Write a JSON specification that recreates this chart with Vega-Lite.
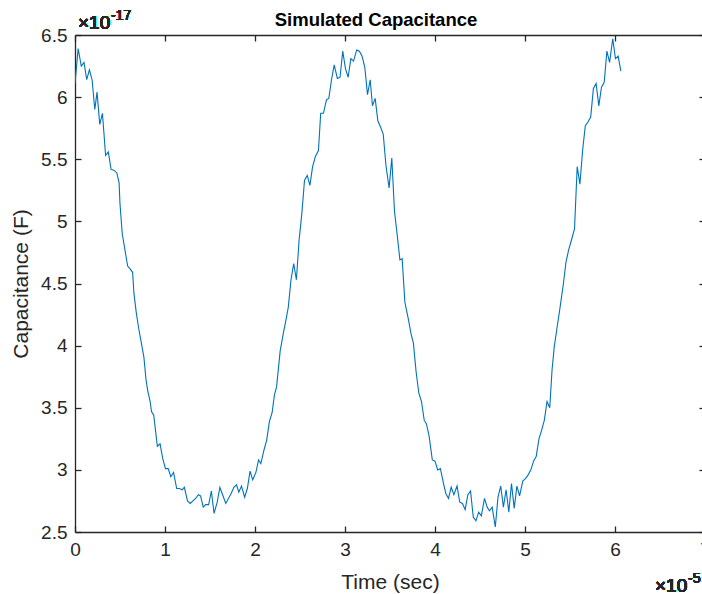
{
  "$schema": "https://vega.github.io/schema/vega-lite/v6.json",
  "autosize": "none",
  "padding": {"left": 75, "top": 35, "right": 0, "bottom": 62},
  "width": 630,
  "height": 497,
  "background": "white",
  "title": {"text": "Simulated Capacitance", "fontSize": 18.5, "fontWeight": "bold", "font": "Liberation Sans", "color": "black", "anchor": "middle", "baseline": "alphabetic", "offset": -35, "dx": -14},
  "config": {
    "view": {"stroke": null},
    "axis": {"domainColor": "#262626", "domainWidth": 1.3, "tickColor": "#262626", "tickWidth": 1.3, "tickSize": -6, "labelColor": "#262626", "labelFont": "Liberation Sans", "labelFontSize": 19, "labelFlush": false, "labelOverlap": false, "format": "~g", "titleFont": "Liberation Sans", "titleFontSize": 21, "titleFontWeight": "normal", "titleColor": "#262626", "grid": false}
  },
  "data": {"values": [
    {"t": 0.0, "c": 6.11}, {"t": 0.035, "c": 6.39}, {"t": 0.07, "c": 6.25}, {"t": 0.1, "c": 6.28}, {"t": 0.13, "c": 6.14}, {"t": 0.16, "c": 6.22}, {"t": 0.19, "c": 6.14}, {"t": 0.22, "c": 5.9}, {"t": 0.245, "c": 6.04}, {"t": 0.275, "c": 5.78}, {"t": 0.305, "c": 5.87}, {"t": 0.34, "c": 5.53}, {"t": 0.37, "c": 5.56}, {"t": 0.4, "c": 5.42}, {"t": 0.435, "c": 5.41}, {"t": 0.465, "c": 5.39}, {"t": 0.49, "c": 5.31}, {"t": 0.5, "c": 5.14}, {"t": 0.525, "c": 4.9}, {"t": 0.555, "c": 4.77}, {"t": 0.585, "c": 4.64}, {"t": 0.61, "c": 4.62}, {"t": 0.64, "c": 4.59}, {"t": 0.655, "c": 4.42}, {"t": 0.68, "c": 4.27}, {"t": 0.705, "c": 4.15}, {"t": 0.735, "c": 4.03}, {"t": 0.765, "c": 3.91}, {"t": 0.79, "c": 3.72}, {"t": 0.81, "c": 3.63}, {"t": 0.835, "c": 3.55}, {"t": 0.85, "c": 3.47}, {"t": 0.875, "c": 3.44}, {"t": 0.915, "c": 3.19}, {"t": 0.945, "c": 3.21}, {"t": 0.975, "c": 3.09}, {"t": 1.005, "c": 3.01}, {"t": 1.035, "c": 3.01}, {"t": 1.065, "c": 2.945}, {"t": 1.095, "c": 2.98}, {"t": 1.13, "c": 2.85}, {"t": 1.16, "c": 2.85}, {"t": 1.19, "c": 2.84}, {"t": 1.215, "c": 2.86}, {"t": 1.25, "c": 2.75}, {"t": 1.28, "c": 2.73}, {"t": 1.31, "c": 2.75}, {"t": 1.34, "c": 2.77}, {"t": 1.37, "c": 2.8}, {"t": 1.395, "c": 2.79}, {"t": 1.425, "c": 2.7}, {"t": 1.45, "c": 2.72}, {"t": 1.485, "c": 2.72}, {"t": 1.515, "c": 2.83}, {"t": 1.545, "c": 2.65}, {"t": 1.58, "c": 2.74}, {"t": 1.61, "c": 2.86}, {"t": 1.64, "c": 2.8}, {"t": 1.675, "c": 2.73}, {"t": 1.705, "c": 2.77}, {"t": 1.735, "c": 2.81}, {"t": 1.765, "c": 2.86}, {"t": 1.795, "c": 2.88}, {"t": 1.82, "c": 2.82}, {"t": 1.85, "c": 2.87}, {"t": 1.885, "c": 2.78}, {"t": 1.915, "c": 2.85}, {"t": 1.945, "c": 2.99}, {"t": 1.975, "c": 2.92}, {"t": 2.01, "c": 2.98}, {"t": 2.04, "c": 3.08}, {"t": 2.065, "c": 3.05}, {"t": 2.1, "c": 3.16}, {"t": 2.13, "c": 3.24}, {"t": 2.16, "c": 3.39}, {"t": 2.19, "c": 3.46}, {"t": 2.215, "c": 3.6}, {"t": 2.24, "c": 3.67}, {"t": 2.28, "c": 3.96}, {"t": 2.315, "c": 4.1}, {"t": 2.345, "c": 4.21}, {"t": 2.37, "c": 4.31}, {"t": 2.4, "c": 4.53}, {"t": 2.43, "c": 4.66}, {"t": 2.46, "c": 4.53}, {"t": 2.49, "c": 4.85}, {"t": 2.52, "c": 5.06}, {"t": 2.55, "c": 5.33}, {"t": 2.58, "c": 5.37}, {"t": 2.61, "c": 5.29}, {"t": 2.64, "c": 5.44}, {"t": 2.67, "c": 5.52}, {"t": 2.705, "c": 5.57}, {"t": 2.73, "c": 5.87}, {"t": 2.76, "c": 5.87}, {"t": 2.795, "c": 5.98}, {"t": 2.82, "c": 5.99}, {"t": 2.85, "c": 6.14}, {"t": 2.88, "c": 6.26}, {"t": 2.915, "c": 6.15}, {"t": 2.945, "c": 6.16}, {"t": 2.975, "c": 6.37}, {"t": 3.005, "c": 6.23}, {"t": 3.035, "c": 6.16}, {"t": 3.065, "c": 6.31}, {"t": 3.095, "c": 6.29}, {"t": 3.13, "c": 6.38}, {"t": 3.16, "c": 6.37}, {"t": 3.19, "c": 6.33}, {"t": 3.22, "c": 6.24}, {"t": 3.25, "c": 6.02}, {"t": 3.28, "c": 6.14}, {"t": 3.305, "c": 5.93}, {"t": 3.335, "c": 5.99}, {"t": 3.365, "c": 5.81}, {"t": 3.395, "c": 5.76}, {"t": 3.425, "c": 5.7}, {"t": 3.455, "c": 5.45}, {"t": 3.49, "c": 5.27}, {"t": 3.52, "c": 5.51}, {"t": 3.55, "c": 5.08}, {"t": 3.58, "c": 4.89}, {"t": 3.61, "c": 4.69}, {"t": 3.635, "c": 4.7}, {"t": 3.665, "c": 4.35}, {"t": 3.705, "c": 4.21}, {"t": 3.735, "c": 4.09}, {"t": 3.76, "c": 4.02}, {"t": 3.79, "c": 3.79}, {"t": 3.82, "c": 3.62}, {"t": 3.85, "c": 3.55}, {"t": 3.88, "c": 3.4}, {"t": 3.905, "c": 3.37}, {"t": 3.935, "c": 3.27}, {"t": 3.97, "c": 3.08}, {"t": 4.0, "c": 3.07}, {"t": 4.03, "c": 3.0}, {"t": 4.06, "c": 3.01}, {"t": 4.095, "c": 2.89}, {"t": 4.12, "c": 2.81}, {"t": 4.15, "c": 2.77}, {"t": 4.18, "c": 2.86}, {"t": 4.21, "c": 2.8}, {"t": 4.245, "c": 2.87}, {"t": 4.275, "c": 2.74}, {"t": 4.305, "c": 2.73}, {"t": 4.335, "c": 2.68}, {"t": 4.365, "c": 2.8}, {"t": 4.395, "c": 2.83}, {"t": 4.425, "c": 2.62}, {"t": 4.455, "c": 2.59}, {"t": 4.485, "c": 2.66}, {"t": 4.515, "c": 2.63}, {"t": 4.55, "c": 2.77}, {"t": 4.58, "c": 2.7}, {"t": 4.605, "c": 2.67}, {"t": 4.635, "c": 2.7}, {"t": 4.67, "c": 2.54}, {"t": 4.7, "c": 2.78}, {"t": 4.73, "c": 2.87}, {"t": 4.76, "c": 2.7}, {"t": 4.79, "c": 2.84}, {"t": 4.82, "c": 2.66}, {"t": 4.85, "c": 2.89}, {"t": 4.88, "c": 2.69}, {"t": 4.91, "c": 2.87}, {"t": 4.94, "c": 2.79}, {"t": 4.975, "c": 2.91}, {"t": 5.005, "c": 2.93}, {"t": 5.035, "c": 2.96}, {"t": 5.065, "c": 3.0}, {"t": 5.095, "c": 3.07}, {"t": 5.125, "c": 3.11}, {"t": 5.155, "c": 3.25}, {"t": 5.185, "c": 3.32}, {"t": 5.215, "c": 3.4}, {"t": 5.245, "c": 3.55}, {"t": 5.275, "c": 3.5}, {"t": 5.3, "c": 3.8}, {"t": 5.325, "c": 3.99}, {"t": 5.355, "c": 4.14}, {"t": 5.39, "c": 4.31}, {"t": 5.425, "c": 4.49}, {"t": 5.455, "c": 4.67}, {"t": 5.485, "c": 4.77}, {"t": 5.52, "c": 4.86}, {"t": 5.55, "c": 4.94}, {"t": 5.58, "c": 5.44}, {"t": 5.61, "c": 5.3}, {"t": 5.64, "c": 5.57}, {"t": 5.67, "c": 5.77}, {"t": 5.7, "c": 5.8}, {"t": 5.73, "c": 5.84}, {"t": 5.76, "c": 6.07}, {"t": 5.79, "c": 6.11}, {"t": 5.82, "c": 5.93}, {"t": 5.85, "c": 6.08}, {"t": 5.88, "c": 6.12}, {"t": 5.91, "c": 6.37}, {"t": 5.94, "c": 6.28}, {"t": 5.975, "c": 6.47}, {"t": 6.005, "c": 6.31}, {"t": 6.035, "c": 6.33}, {"t": 6.065, "c": 6.21}
  ]},
  "layer": [
    {
      "mark": {"type": "line", "color": "#0072BD", "strokeWidth": 1.1, "clip": true},
      "encoding": {
        "x": {"field": "t", "type": "quantitative", "scale": {"domain": [0, 7], "nice": false, "zero": false},
              "axis": {"orient": "bottom", "values": [0, 1, 2, 3, 4, 5, 6, 7], "title": "Time (sec)", "labelPadding": 14, "titlePadding": 12}},
        "y": {"field": "c", "type": "quantitative", "scale": {"domain": [2.5, 6.5], "nice": false, "zero": false},
              "axis": {"orient": "left", "values": [2.5, 3, 3.5, 4, 4.5, 5, 5.5, 6, 6.5], "title": "Capacitance (F)", "labelPadding": 14, "titlePadding": 9}}
      }
    },
    {
      "mark": {"type": "line", "opacity": 0},
      "encoding": {
        "x": {"field": "t", "type": "quantitative", "axis": {"orient": "top", "values": [0, 1, 2, 3, 4, 5, 6, 7], "labels": false, "title": null}},
        "y": {"field": "c", "type": "quantitative", "axis": {"orient": "right", "values": [2.5, 3, 3.5, 4, 4.5, 5, 5.5, 6, 6.5], "labels": false, "title": null}}
      }
    },
    {
      "mark": {"type": "text", "text": "×10", "font": "Liberation Sans", "fontSize": 19, "fontWeight": "normal", "color": "#262626", "align": "left", "baseline": "alphabetic", "dx": 3, "dy": -6},
      "encoding": {"x": {"datum": 0, "axis": null}, "y": {"datum": 6.5, "axis": null}}
    },
    {
      "mark": {"type": "text", "text": "-17", "font": "Liberation Sans", "fontSize": 14, "fontWeight": "normal", "color": "#262626", "align": "left", "baseline": "alphabetic", "dx": 36, "dy": -15},
      "encoding": {"x": {"datum": 0, "axis": null}, "y": {"datum": 6.5, "axis": null}}
    },
    {
      "mark": {"type": "text", "text": "×10", "font": "Liberation Sans", "fontSize": 19, "fontWeight": "normal", "color": "#262626", "align": "left", "baseline": "alphabetic", "dx": -50, "dy": 60},
      "encoding": {"x": {"datum": 7, "axis": null}, "y": {"datum": 2.5, "axis": null}}
    },
    {
      "mark": {"type": "text", "text": "-5", "font": "Liberation Sans", "fontSize": 14, "fontWeight": "normal", "color": "#262626", "align": "left", "baseline": "alphabetic", "dx": -17, "dy": 51},
      "encoding": {"x": {"datum": 7, "axis": null}, "y": {"datum": 2.5, "axis": null}}
    }
  ]
}
